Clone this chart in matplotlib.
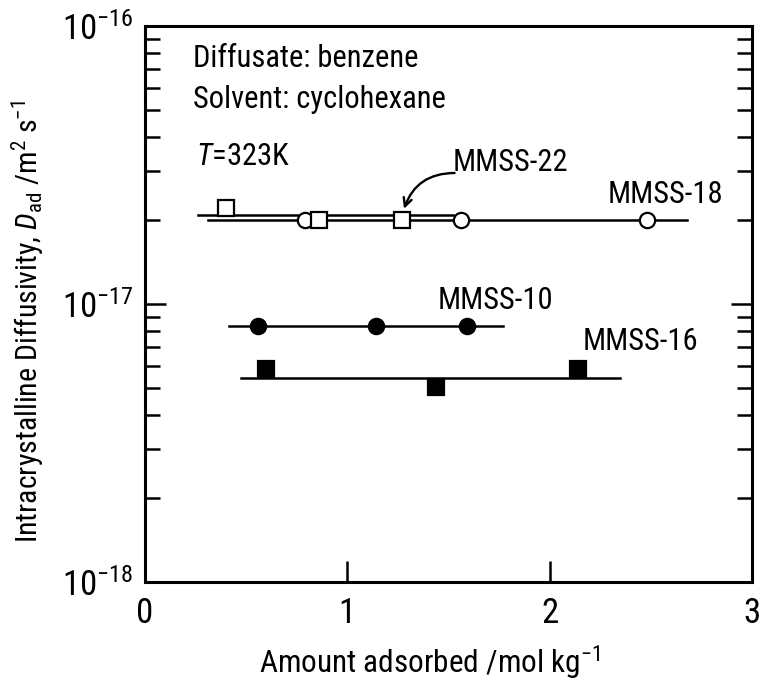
import matplotlib
matplotlib.use("Agg")
import matplotlib.pyplot as plt
from matplotlib.ticker import LogLocator, NullFormatter, FixedLocator

FONT = ['Roboto Condensed', 'Liberation Sans', 'DejaVu Sans']
plt.rcParams['font.family'] = FONT
plt.rcParams['mathtext.fontset'] = 'custom'
plt.rcParams['mathtext.rm'] = 'Roboto Condensed'
plt.rcParams['mathtext.it'] = 'Roboto Condensed:italic'
plt.rcParams['mathtext.sf'] = 'Roboto Condensed'

# ---- data ----
x18 = [0.79, 1.56, 2.48]
y18 = [2.0e-17, 2.0e-17, 2.0e-17]
fit18_x = [0.31, 2.68]
fit18_y = [2.0e-17, 2.0e-17]

x22 = [0.40, 0.86, 1.27]
y22 = [2.21e-17, 2.0e-17, 2.0e-17]
fit22_x = [0.26, 1.52]
fit22_y = [2.09e-17, 2.09e-17]

x10 = [0.56, 1.14, 1.59]
y10 = [8.33e-18, 8.33e-18, 8.33e-18]
fit10_x = [0.415, 1.77]
fit10_y = [8.33e-18, 8.33e-18]

x16 = [0.60, 1.44, 2.14]
y16 = [5.82e-18, 5.01e-18, 5.82e-18]
fit16_x = [0.475, 2.35]
fit16_y = [5.43e-18, 5.43e-18]

xticks = [0, 1, 2, 3]
yticks = [1e-18, 1e-17, 1e-16]
ytick_labels = [r'$\mathregular{10^{-18}}$', r'$\mathregular{10^{-17}}$', r'$\mathregular{10^{-16}}$']

fig = plt.figure(figsize=(7.63, 6.89), dpi=100)
ax = fig.add_axes([145/763, 1-582/689, (752-145)/763, (582-26)/689])

lw = 1.8
ms_c = 11
ms_s = 11
mew = 1.6

ax.plot(fit18_x, fit18_y, color='black', lw=lw, zorder=2)
ax.plot(fit22_x, fit22_y, color='black', lw=lw, zorder=2)
ax.plot(fit10_x, fit10_y, color='black', lw=lw, zorder=2)
ax.plot(fit16_x, fit16_y, color='black', lw=lw, zorder=2)

ax.plot(x18, y18, 'o', ms=ms_c, mfc='white', mec='black', mew=mew, zorder=3)
ax.plot(x22, y22, 's', ms=ms_s, mfc='white', mec='black', mew=mew, zorder=4)
ax.plot(x10, y10, 'o', ms=ms_c, mfc='black', mec='black', mew=mew, zorder=3)
ax.plot(x16, y16, 's', ms=ms_s, mfc='black', mec='black', mew=mew, zorder=3)

ax.set_yscale('log')
ax.set_xlim(0, 3)
ax.set_ylim(1e-18, 1e-16)

ax.xaxis.set_major_locator(FixedLocator(xticks))
ax.set_xticklabels([str(t) for t in xticks])
ax.yaxis.set_major_locator(FixedLocator(yticks))
ax.set_yticklabels(ytick_labels)
ax.yaxis.set_minor_locator(LogLocator(base=10, subs=[2, 3, 4, 5, 6, 7, 8, 9]))
ax.yaxis.set_minor_formatter(NullFormatter())

ax.tick_params(axis='both', which='major', direction='in', length=15, width=1.8,
               right=True, top=False)
ax.tick_params(axis='x', which='major', labelsize=25, pad=11)
ax.tick_params(axis='y', which='major', labelsize=25, pad=8)
ax.tick_params(axis='y', which='minor', direction='in', length=10.5, width=1.8, right=True)

for sp in ax.spines.values():
    sp.set_linewidth(2.2)

ax.set_xlabel(r'Amount adsorbed /mol kg$^{\mathregular{-1}}$', fontsize=22.5)
ax.xaxis.set_label_coords((430 - 145) / 607, (582 - 643) / 556)
ax.set_ylabel(r'Intracrystalline Diffusivity, $\mathit{D}_{\mathregular{ad}}$ /m$^{\mathregular{2}}$ s$^{\mathregular{-1}}$',
              fontsize=21.5)
ax.yaxis.set_label_coords((46 - 145) / 607, (582 - 322) / 556)

ann = 22
ax.text(0.237, 7.67e-17, 'Diffusate: benzene', fontsize=ann, va='center', ha='left')
ax.text(0.237, 5.46e-17, 'Solvent: cyclohexane', fontsize=ann, va='center', ha='left')
ax.text(0.25, 3.38e-17, r'$\mathit{T}$=323K', fontsize=ann, va='center', ha='left')
ax.text(1.52, 3.24e-17, 'MMSS-22', fontsize=ann, va='center', ha='left')
ax.text(2.57, 2.47e-17, 'MMSS-18', fontsize=ann, va='center', ha='center')
ax.text(1.73, 1.03e-17, 'MMSS-10', fontsize=ann, va='center', ha='center')
ax.text(2.447, 7.3e-18, 'MMSS-16', fontsize=ann, va='center', ha='center')

ax.annotate('', xy=(1.28, 2.20e-17), xytext=(1.53, 2.96e-17),
            arrowprops=dict(arrowstyle='->,head_length=0.6,head_width=0.3', color='black', lw=1.7,
                            connectionstyle='arc3,rad=0.35', shrinkA=0, shrinkB=0))

fig.savefig('out.png', dpi=100)
